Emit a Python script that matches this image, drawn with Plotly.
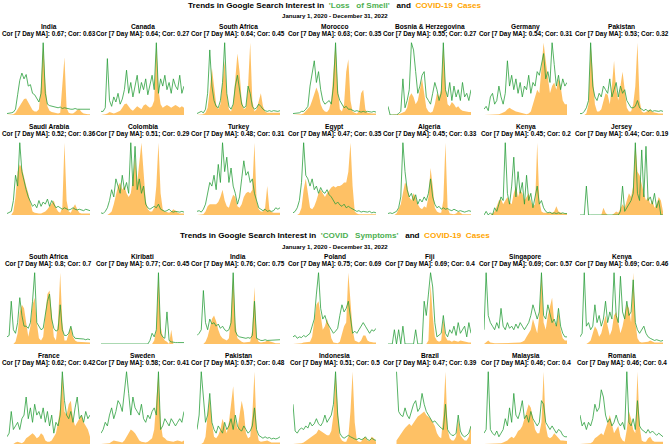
import pandas as pd
import plotly.graph_objects as go

# sample dates across the study window (40 steps, roughly every 4 weeks)
DATES = pd.date_range("2020-01-01", "2022-12-31", periods=40)

# ---- Loss of Smell panels: scaled cases (0-100) and scaled search interest (0-100)
INDIA_LOS_CASES = [0, 0, 0, 1, 3, 8, 13, 18, 22, 23, 18, 12, 7, 5, 5, 8, 40, 100, 45, 12, 6, 4, 3, 2, 2, 3, 40, 80, 10, 3, 2, 2, 4, 7, 8, 4, 2, 1, 1, 1]
INDIA_LOS_SEARCH = [2, 2, 3, 4, 8, 28, 48, 58, 50, 56, 40, 42, 30, 28, 22, 18, 30, 100, 30, 15, 13, 12, 12, 11, 10, 11, 9, 10, 9, 8, 8, 8, 9, 8, 8, 9, 8, 8, 9, 8]
CANADA_LOS_CASES = [0, 0, 1, 2, 4, 3, 2, 3, 4, 6, 10, 15, 16, 12, 8, 6, 9, 12, 10, 8, 13, 15, 12, 10, 12, 20, 100, 35, 15, 10, 12, 14, 12, 10, 12, 14, 12, 10, 12, 10]
CANADA_LOS_SEARCH = [5, 5, 10, 78, 20, 12, 25, 18, 30, 15, 22, 35, 62, 30, 45, 25, 40, 55, 30, 45, 35, 50, 28, 42, 55, 35, 100, 30, 50, 40, 55, 35, 45, 30, 50, 40, 35, 55, 30, 40]
SAFRICA_LOS_CASES = [0, 0, 0, 1, 3, 10, 35, 65, 40, 15, 8, 15, 45, 75, 30, 8, 5, 15, 50, 85, 60, 20, 8, 10, 40, 100, 20, 5, 8, 20, 30, 12, 5, 3, 3, 2, 2, 2, 3, 3]
SAFRICA_LOS_SEARCH = [2, 3, 5, 3, 8, 30, 90, 40, 20, 12, 10, 20, 45, 100, 30, 12, 8, 15, 40, 55, 35, 15, 10, 12, 40, 30, 12, 8, 10, 15, 12, 8, 6, 5, 6, 5, 6, 5, 5, 6]
MOROCCO_LOS_CASES = [0, 0, 0, 0, 1, 2, 5, 8, 12, 20, 30, 38, 30, 15, 8, 5, 4, 8, 20, 60, 100, 40, 8, 5, 15, 60, 77, 20, 5, 3, 2, 5, 30, 35, 8, 3, 2, 2, 2, 2]
MOROCCO_LOS_SEARCH = [2, 2, 3, 3, 5, 5, 8, 12, 40, 55, 75, 45, 60, 35, 20, 15, 18, 20, 15, 40, 100, 30, 20, 15, 10, 12, 8, 8, 6, 5, 6, 5, 4, 5, 4, 5, 4, 4, 5, 4]
BOSNIA_LOS_CASES = [0, 0, 0, 0, 0, 1, 2, 3, 5, 10, 25, 30, 25, 15, 20, 35, 50, 30, 10, 5, 3, 5, 15, 30, 25, 35, 100, 40, 15, 12, 18, 15, 10, 12, 8, 6, 5, 5, 4, 4]
BOSNIA_LOS_SEARCH = [12, 0, 0, 0, 0, 2, 5, 50, 10, 20, 35, 100, 90, 60, 30, 40, 55, 60, 25, 20, 15, 30, 45, 35, 20, 30, 100, 35, 25, 45, 20, 40, 25, 35, 20, 45, 25, 30, 20, 35]
GERMANY_LOS_CASES = [0, 0, 0, 0, 1, 1, 1, 1, 2, 3, 5, 8, 10, 8, 6, 5, 4, 3, 2, 1, 1, 2, 5, 15, 25, 35, 30, 60, 100, 75, 55, 30, 40, 45, 35, 50, 40, 20, 15, 15]
GERMANY_LOS_SEARCH = [8, 12, 6, 25, 30, 15, 20, 40, 25, 15, 30, 75, 40, 55, 35, 50, 30, 45, 25, 40, 35, 55, 30, 45, 40, 60, 55, 70, 85, 50, 60, 45, 100, 70, 40, 55, 35, 50, 40, 45]
PAKISTAN_LOS_CASES = [0, 0, 0, 2, 15, 100, 55, 15, 5, 5, 8, 20, 30, 28, 15, 40, 75, 35, 20, 40, 60, 35, 10, 5, 5, 15, 40, 100, 20, 5, 3, 4, 6, 8, 4, 3, 2, 2, 2, 2]
PAKISTAN_LOS_SEARCH = [2, 2, 5, 10, 20, 100, 40, 25, 20, 30, 25, 40, 35, 30, 50, 25, 35, 45, 25, 40, 30, 35, 20, 15, 10, 10, 12, 20, 10, 8, 6, 8, 5, 7, 5, 6, 5, 5, 6, 5]
SAUDI_LOS_CASES = [0, 0, 0, 5, 25, 60, 70, 65, 50, 40, 30, 15, 5, 3, 2, 2, 2, 3, 5, 8, 12, 15, 20, 10, 5, 3, 10, 100, 20, 5, 3, 10, 15, 8, 3, 2, 2, 2, 2, 2]
SAUDI_LOS_SEARCH = [2, 3, 5, 20, 55, 40, 100, 60, 45, 35, 25, 18, 12, 15, 10, 20, 12, 18, 15, 22, 12, 20, 15, 10, 12, 10, 8, 10, 8, 7, 8, 10, 8, 7, 8, 7, 6, 8, 7, 6]
COLOMBIA_LOS_CASES = [0, 0, 0, 0, 2, 5, 15, 30, 40, 45, 35, 40, 30, 25, 30, 50, 80, 45, 70, 100, 60, 20, 8, 5, 5, 10, 40, 100, 30, 8, 5, 4, 3, 5, 8, 6, 3, 2, 2, 2]
COLOMBIA_LOS_SEARCH = [3, 2, 5, 10, 20, 35, 25, 50, 40, 30, 55, 35, 45, 30, 100, 40, 95, 35, 50, 30, 40, 15, 10, 8, 10, 12, 10, 15, 8, 6, 5, 6, 8, 5, 4, 5, 4, 4, 5, 4]
TURKEY_LOS_CASES = [0, 0, 0, 1, 5, 12, 15, 15, 14, 15, 18, 25, 35, 20, 12, 10, 20, 28, 25, 12, 10, 15, 25, 30, 32, 30, 35, 100, 20, 8, 5, 5, 10, 40, 8, 4, 3, 3, 3, 3]
TURKEY_LOS_SEARCH = [5, 6, 4, 8, 15, 30, 45, 40, 55, 35, 70, 45, 100, 60, 80, 45, 65, 40, 30, 15, 25, 50, 75, 55, 60, 45, 50, 30, 20, 10, 8, 6, 8, 5, 6, 5, 6, 10, 8, 10]
EGYPT_LOS_CASES = [0, 0, 0, 2, 10, 35, 50, 30, 10, 8, 12, 20, 30, 35, 30, 25, 30, 35, 38, 40, 38, 40, 40, 42, 45, 45, 60, 100, 40, 5, 2, 1, 1, 1, 1, 1, 1, 1, 1, 1]
EGYPT_LOS_SEARCH = [3, 5, 10, 20, 45, 100, 55, 50, 40, 50, 35, 40, 30, 38, 32, 30, 35, 28, 25, 20, 15, 18, 14, 12, 15, 10, 12, 10, 8, 6, 5, 6, 4, 5, 4, 4, 5, 3, 4, 3]
ALGERIA_LOS_CASES = [0, 0, 0, 0, 2, 8, 15, 30, 45, 40, 25, 20, 30, 25, 15, 10, 8, 12, 10, 25, 65, 40, 10, 5, 3, 3, 20, 100, 10, 2, 1, 1, 2, 5, 3, 1, 1, 1, 1, 1]
ALGERIA_LOS_SEARCH = [2, 3, 2, 3, 5, 10, 25, 100, 60, 35, 25, 30, 20, 28, 15, 22, 18, 25, 20, 30, 50, 25, 15, 10, 12, 8, 10, 8, 9, 7, 6, 8, 6, 5, 6, 5, 4, 5, 6, 5]
KENYA_LOS_CASES = [0, 0, 0, 0, 2, 5, 12, 20, 22, 15, 20, 25, 18, 15, 30, 40, 25, 35, 30, 20, 25, 30, 20, 12, 15, 100, 20, 5, 3, 3, 3, 2, 3, 5, 12, 5, 3, 2, 2, 2]
KENYA_LOS_SEARCH = [0, 5, 0, 3, 0, 10, 5, 15, 25, 20, 100, 30, 15, 40, 80, 25, 60, 30, 45, 15, 55, 20, 30, 10, 25, 40, 15, 20, 10, 5, 3, 4, 2, 3, 2, 3, 2, 3, 2, 2]
JERSEY_LOS_CASES = [0, 0, 0, 0, 0, 0, 0, 0, 0, 0, 0, 10, 3, 0, 0, 0, 2, 5, 3, 8, 15, 10, 20, 30, 25, 40, 100, 60, 55, 40, 30, 20, 25, 15, 20, 10, 15, 25, 20, 5]
JERSEY_LOS_SEARCH = [0, 0, 0, 40, 0, 0, 0, 0, 0, 0, 0, 0, 0, 0, 0, 0, 0, 0, 0, 5, 40, 5, 10, 15, 20, 30, 100, 30, 20, 90, 25, 95, 20, 25, 15, 30, 10, 20, 0, 0]

# ---- COVID Symptoms panels
SAFRICA_CS_CASES = [0, 0, 0, 0, 3, 15, 45, 55, 50, 30, 10, 25, 55, 65, 30, 8, 5, 10, 40, 70, 75, 40, 10, 5, 30, 100, 30, 5, 5, 15, 25, 10, 5, 3, 3, 2, 2, 2, 2, 2]
SAFRICA_CS_SEARCH = [10, 12, 60, 20, 15, 30, 65, 40, 25, 25, 22, 30, 60, 100, 30, 25, 20, 22, 45, 60, 70, 35, 22, 18, 20, 55, 20, 12, 12, 15, 25, 12, 8, 8, 7, 8, 7, 6, 7, 6]
KIRIBATI_CS_CASES = [0, 0, 0, 0, 0, 0, 0, 0, 0, 0, 0, 0, 0, 0, 0, 0, 0, 0, 0, 0, 0, 0, 0, 0, 0, 5, 20, 100, 25, 10, 5, 3, 0, 20, 0, 0, 0, 0, 0, 0]
KIRIBATI_CS_SEARCH = [0, 0, 0, 0, 0, 0, 0, 0, 0, 0, 0, 0, 0, 0, 0, 0, 0, 0, 0, 0, 0, 0, 0, 5, 15, 10, 20, 100, 15, 10, 8, 45, 5, 3, 2, 2, 2, 2, 2, 2]
INDIA_CS_CASES = [0, 0, 0, 0, 3, 10, 22, 35, 40, 32, 20, 12, 8, 6, 5, 8, 40, 100, 30, 8, 5, 3, 2, 2, 2, 3, 20, 80, 10, 3, 2, 2, 3, 5, 4, 2, 1, 1, 1, 1]
INDIA_CS_SEARCH = [12, 15, 20, 75, 30, 20, 35, 28, 30, 25, 28, 22, 25, 20, 18, 20, 30, 100, 18, 12, 10, 9, 8, 8, 9, 8, 12, 60, 8, 6, 5, 5, 6, 5, 5, 5, 6, 5, 5, 6]
POLAND_CS_CASES = [0, 0, 0, 0, 1, 2, 2, 2, 3, 10, 30, 55, 60, 40, 20, 25, 35, 25, 8, 2, 1, 1, 3, 15, 25, 30, 100, 60, 20, 5, 3, 2, 5, 12, 12, 5, 3, 2, 2, 2]
POLAND_CS_SEARCH = [10, 12, 8, 10, 9, 12, 10, 12, 15, 25, 35, 70, 100, 50, 35, 40, 30, 25, 20, 15, 18, 22, 40, 55, 45, 50, 60, 35, 15, 18, 15, 20, 25, 30, 25, 20, 15, 20, 18, 22]
FIJI_CS_CASES = [0, 0, 0, 0, 0, 0, 0, 0, 0, 0, 0, 0, 0, 0, 0, 0, 0, 0, 0, 5, 85, 40, 10, 5, 3, 5, 35, 10, 5, 5, 3, 5, 4, 3, 5, 4, 3, 3, 2, 2]
FIJI_CS_SEARCH = [0, 0, 0, 20, 0, 20, 0, 25, 0, 0, 0, 0, 0, 20, 0, 0, 0, 60, 40, 70, 100, 80, 30, 10, 12, 15, 40, 15, 10, 20, 15, 25, 12, 30, 15, 20, 25, 10, 30, 15]
SINGAPORE_CS_CASES = [0, 2, 5, 2, 1, 1, 1, 1, 1, 1, 1, 1, 1, 1, 1, 1, 1, 2, 3, 5, 10, 15, 20, 35, 25, 15, 40, 100, 30, 20, 40, 55, 65, 30, 25, 45, 20, 8, 5, 5]
SINGAPORE_CS_SEARCH = [20, 100, 40, 30, 25, 20, 30, 22, 50, 25, 20, 30, 22, 25, 20, 28, 22, 30, 25, 20, 25, 30, 40, 55, 45, 35, 45, 100, 40, 35, 55, 40, 30, 35, 25, 50, 25, 15, 10, 10]
KENYA_CS_CASES = [0, 0, 0, 0, 2, 5, 15, 25, 20, 10, 15, 30, 40, 25, 12, 20, 40, 45, 30, 15, 25, 40, 55, 50, 30, 100, 30, 8, 3, 2, 2, 2, 3, 5, 3, 2, 2, 2, 2, 2]
KENYA_CS_SEARCH = [10, 15, 100, 25, 30, 20, 25, 55, 30, 40, 25, 35, 60, 30, 45, 35, 100, 40, 30, 95, 45, 35, 60, 40, 45, 90, 30, 20, 15, 20, 25, 15, 10, 8, 6, 5, 6, 5, 4, 5]
FRANCE_CS_CASES = [0, 0, 0, 0, 2, 3, 2, 1, 3, 8, 10, 12, 15, 12, 8, 10, 15, 12, 5, 3, 3, 5, 10, 15, 30, 50, 100, 45, 40, 55, 60, 35, 25, 30, 35, 40, 30, 25, 20, 10]
FRANCE_CS_SEARCH = [10, 15, 45, 20, 25, 30, 20, 35, 40, 65, 35, 50, 30, 55, 40, 45, 35, 50, 30, 45, 25, 40, 15, 30, 25, 40, 100, 60, 40, 35, 45, 30, 50, 65, 35, 40, 30, 45, 35, 40]
SWEDEN_CS_CASES = [0, 0, 0, 0, 1, 3, 5, 4, 3, 2, 2, 5, 10, 15, 20, 18, 15, 10, 5, 3, 2, 2, 3, 5, 8, 20, 60, 100, 30, 10, 8, 5, 4, 3, 3, 4, 5, 4, 3, 5]
SWEDEN_CS_SEARCH = [15, 20, 30, 25, 40, 50, 35, 45, 60, 55, 45, 70, 100, 70, 40, 65, 50, 45, 40, 55, 35, 30, 40, 35, 45, 50, 40, 100, 20, 25, 35, 30, 25, 35, 30, 25, 30, 35, 30, 45]
PAKISTAN_CS_CASES = [0, 0, 0, 2, 10, 40, 65, 30, 10, 8, 12, 20, 35, 25, 15, 30, 60, 80, 35, 20, 40, 60, 45, 15, 8, 10, 40, 100, 20, 5, 3, 3, 4, 5, 3, 2, 2, 2, 2, 2]
PAKISTAN_CS_SEARCH = [20, 40, 100, 60, 30, 40, 70, 30, 20, 15, 25, 20, 15, 30, 20, 25, 35, 20, 40, 25, 20, 18, 25, 20, 15, 18, 25, 50, 20, 12, 10, 8, 10, 8, 9, 7, 8, 7, 8, 10]
INDONESIA_CS_CASES = [0, 0, 0, 0, 1, 2, 4, 6, 8, 10, 12, 15, 20, 18, 15, 14, 12, 12, 18, 40, 100, 50, 10, 5, 3, 3, 10, 45, 100, 30, 5, 3, 3, 8, 10, 5, 4, 10, 8, 3]
INDONESIA_CS_SEARCH = [55, 18, 15, 20, 22, 20, 25, 22, 30, 25, 28, 35, 28, 25, 30, 40, 30, 35, 40, 55, 100, 40, 15, 10, 8, 10, 12, 10, 8, 7, 6, 8, 6, 7, 10, 6, 5, 8, 6, 5]
BRAZIL_CS_CASES = [None, None, None, None, 5, 10, 15, 18, 22, 25, 28, 25, 30, 35, 38, 40, 42, 45, 40, 38, 35, 30, 25, 15, 10, 8, 40, 100, 20, 8, 5, 5, 10, 35, 12, 8, 5, 5, 10, 25]
BRAZIL_CS_SEARCH = [None, None, None, None, 100, 45, 40, 38, 50, 40, 35, 45, 55, 60, 45, 50, 70, 55, 45, 40, 35, 30, 32, 28, 25, 22, 20, 55, 20, 15, 12, 12, 15, 40, 18, 12, 10, 12, 15, 25]
MALAYSIA_CS_CASES = [0, 0, 0, 0, 0, 0, 0, 0, 1, 2, 3, 5, 8, 10, 8, 12, 18, 20, 25, 35, 45, 55, 50, 35, 20, 15, 15, 30, 100, 25, 10, 8, 10, 15, 12, 8, 5, 5, 4, 4]
MALAYSIA_CS_SEARCH = [15, 20, 100, 20, 15, 12, 18, 10, 15, 20, 35, 25, 50, 30, 70, 40, 35, 45, 60, 35, 40, 30, 45, 35, 30, 25, 30, 60, 55, 30, 25, 20, 25, 20, 15, 20, 18, 12, 10, 10]
ROMANIA_CS_CASES = [0, 0, 0, 0, 0, 1, 3, 8, 10, 12, 15, 12, 20, 30, 40, 25, 15, 20, 25, 10, 5, 3, 20, 45, 35, 20, 15, 100, 25, 5, 3, 3, 8, 10, 5, 3, 3, 3, 3, 3]
ROMANIA_CS_SEARCH = [40, 25, 30, 20, 30, 25, 35, 55, 45, 50, 75, 65, 40, 30, 35, 25, 30, 40, 30, 25, 30, 20, 100, 30, 25, 35, 20, 60, 25, 20, 18, 15, 20, 15, 18, 15, 12, 15, 12, 10]

# country, cor (7-day MA), cor (daily), cases, search
LOSS_PANELS = [
    ("India", 0.67, 0.63, INDIA_LOS_CASES, INDIA_LOS_SEARCH),
    ("Canada", 0.64, 0.27, CANADA_LOS_CASES, CANADA_LOS_SEARCH),
    ("South Africa", 0.64, 0.45, SAFRICA_LOS_CASES, SAFRICA_LOS_SEARCH),
    ("Morocco", 0.63, 0.35, MOROCCO_LOS_CASES, MOROCCO_LOS_SEARCH),
    ("Bosnia & Herzegovina", 0.55, 0.27, BOSNIA_LOS_CASES, BOSNIA_LOS_SEARCH),
    ("Germany", 0.54, 0.31, GERMANY_LOS_CASES, GERMANY_LOS_SEARCH),
    ("Pakistan", 0.53, 0.32, PAKISTAN_LOS_CASES, PAKISTAN_LOS_SEARCH),
    ("Saudi Arabia", 0.52, 0.36, SAUDI_LOS_CASES, SAUDI_LOS_SEARCH),
    ("Colombia", 0.51, 0.29, COLOMBIA_LOS_CASES, COLOMBIA_LOS_SEARCH),
    ("Turkey", 0.48, 0.31, TURKEY_LOS_CASES, TURKEY_LOS_SEARCH),
    ("Egypt", 0.47, 0.35, EGYPT_LOS_CASES, EGYPT_LOS_SEARCH),
    ("Algeria", 0.45, 0.33, ALGERIA_LOS_CASES, ALGERIA_LOS_SEARCH),
    ("Kenya", 0.45, 0.2, KENYA_LOS_CASES, KENYA_LOS_SEARCH),
    ("Jersey", 0.44, 0.19, JERSEY_LOS_CASES, JERSEY_LOS_SEARCH),
]
SYMPTOM_PANELS = [
    ("South Africa", 0.8, 0.7, SAFRICA_CS_CASES, SAFRICA_CS_SEARCH),
    ("Kiribati", 0.77, 0.45, KIRIBATI_CS_CASES, KIRIBATI_CS_SEARCH),
    ("India", 0.76, 0.75, INDIA_CS_CASES, INDIA_CS_SEARCH),
    ("Poland", 0.75, 0.69, POLAND_CS_CASES, POLAND_CS_SEARCH),
    ("Fiji", 0.69, 0.4, FIJI_CS_CASES, FIJI_CS_SEARCH),
    ("Singapore", 0.69, 0.57, SINGAPORE_CS_CASES, SINGAPORE_CS_SEARCH),
    ("Kenya", 0.69, 0.46, KENYA_CS_CASES, KENYA_CS_SEARCH),
    ("France", 0.62, 0.42, FRANCE_CS_CASES, FRANCE_CS_SEARCH),
    ("Sweden", 0.58, 0.41, SWEDEN_CS_CASES, SWEDEN_CS_SEARCH),
    ("Pakistan", 0.57, 0.48, PAKISTAN_CS_CASES, PAKISTAN_CS_SEARCH),
    ("Indonesia", 0.51, 0.5, INDONESIA_CS_CASES, INDONESIA_CS_SEARCH),
    ("Brazil", 0.47, 0.39, BRAZIL_CS_CASES, BRAZIL_CS_SEARCH),
    ("Malaysia", 0.46, 0.4, MALAYSIA_CS_CASES, MALAYSIA_CS_SEARCH),
    ("Romania", 0.46, 0.4, ROMANIA_CS_CASES, ROMANIA_CS_SEARCH),
]

# layout in pixels
W, H = 669, 447
COL_LEFT = [7, 101, 197, 293, 388, 484, 580]
PANEL_W = 83
ROW_SPANS = [(42, 115), (142, 215), (272, 344), (371, 444)]

ORANGE_FILL = "rgba(253,172,50,0.75)"
GREEN_LINE = "rgba(40,158,58,0.78)"
FONT = "Liberation Sans, Arial, sans-serif"


def py(px):
    """pixel from top -> paper y"""
    return 1 - px / H


fig = go.Figure()
annotations = []
layout_axes = {}

panels = LOSS_PANELS + SYMPTOM_PANELS
for k, (country, cor_ma, cor, cases, search) in enumerate(panels):
    row, col = divmod(k, 7)
    top, bottom = ROW_SPANS[row]
    left = COL_LEFT[col]
    n = k + 1
    xa, ya = f"x{n}", f"y{n}"

    fig.add_trace(go.Scatter(
        x=DATES, y=cases, xaxis=xa, yaxis=ya, mode="lines",
        line=dict(width=0, color=ORANGE_FILL), fill="tozeroy",
        fillcolor=ORANGE_FILL, hoverinfo="skip", showlegend=False,
    ))
    fig.add_trace(go.Scatter(
        x=DATES, y=search, xaxis=xa, yaxis=ya, mode="lines",
        line=dict(width=1, color=GREEN_LINE), hoverinfo="skip", showlegend=False,
    ))

    layout_axes[f"xaxis{n}"] = dict(
        domain=[left / W, (left + PANEL_W) / W], anchor=ya, visible=False,
        range=[DATES[0], DATES[-1]],
    )
    layout_axes[f"yaxis{n}"] = dict(
        domain=[py(bottom), py(top)], anchor=xa, visible=False, range=[0, 101],
    )

    cx = (left + PANEL_W / 2) / W
    annotations.append(dict(
        text=f"<b>{country}</b>", x=cx, y=py(top - 15.5), xref="paper", yref="paper",
        showarrow=False, xanchor="center", yanchor="middle",
        font=dict(size=6.6, color="black", family=FONT),
    ))
    annotations.append(dict(
        text=f"<b>Cor [7 Day MA]: {cor_ma}; Cor: {cor}</b>", x=cx, y=py(top - 8.5),
        xref="paper", yref="paper", showarrow=False, xanchor="center", yanchor="middle",
        font=dict(size=6.4, color="black", family=FONT),
    ))

GREEN_TXT = "#4CAF50"
ORANGE_TXT = "#FFA500"
titles = [
    (5.5, 16, "'Loss&#160;&#160; of Smell'"),
    (235, 246, "'COVID&#160;&#160; Symptoms'"),
]
for ty, sy, term in titles:
    annotations.append(dict(
        text=(f"<b>Trends in Google Search Interest in &#160;<span style='color:{GREEN_TXT}'>{term}</span>"
              f"&#160;&#160; and &#160;<span style='color:{ORANGE_TXT}'>COVID-19&#160; Cases</span></b>"),
        x=0.5, y=py(ty), xref="paper", yref="paper", showarrow=False,
        xanchor="center", yanchor="middle", font=dict(size=8.1, color="black", family=FONT),
    ))
    annotations.append(dict(
        text="<b>January 1, 2020 - December 31, 2022</b>", x=0.5, y=py(sy),
        xref="paper", yref="paper", showarrow=False, xanchor="center", yanchor="middle",
        font=dict(size=6.1, color="black", family=FONT),
    ))

fig.update_layout(
    width=W, height=H, margin=dict(l=0, r=0, t=0, b=0),
    paper_bgcolor="white", plot_bgcolor="white",
    annotations=annotations, showlegend=False, **layout_axes,
)

# the page's default body margin would push the figure 8px down and right
fig.write_html(
    "out.html",
    config={"displayModeBar": False, "staticPlot": True},
    post_script="document.body.style.margin = '0px';",
)
